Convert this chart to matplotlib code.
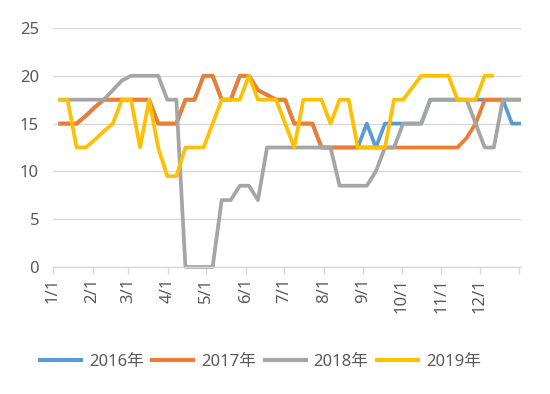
import numpy as np
import matplotlib
matplotlib.use("Agg")
import matplotlib.pyplot as plt

plt.rcParams['font.family'] = ['Noto Sans', 'Noto Sans CJK SC']

# weekly observations (week index 0..51)
s2016 = [15, 15, 15, 15.8, 16.7, 17.5, 17.5, 17.5, 17.5, 17.5, 17.5, 15, 15, 15,
         17.5, 17.5, 20, 20, 17.5, 17.5, 20, 20, 18.5, 18, 17.5, 17.5, 15, 15, 15,
         12.5, 12.5, 12.5, 12.5, 12.5, 15, 12.5, 15, 15, 15, 15, 15,
         17.5, 17.5, 17.5, 17.5, 17.5, 17.5, 17.5, 17.5, 17.5, 15, 15]
s2017 = [15, 15, 15, 15.8, 16.7, 17.5, 17.5, 17.5, 17.5, 17.5, 17.5, 15, 15, 15,
         17.5, 17.5, 20, 20, 17.5, 17.5, 20, 20, 18.5, 18, 17.5, 17.5, 15, 15, 15,
         12.5, 12.5, 12.5, 12.5, 12.5, 12.5, 12.5, 12.5, 12.5, 12.5, 12.5, 12.5,
         12.5, 12.5, 12.5, 12.5, 13.5, 15, 17.5, 17.5, 17.5, 17.5, 17.5]
s2018 = [17.5, 17.5, 17.5, 17.5, 17.5, 17.5, 18.5, 19.5, 20, 20, 20, 20, 17.5, 17.5,
         0, 0, 0, 0, 7, 7, 8.5, 8.5, 7, 12.5, 12.5, 12.5, 12.5, 12.5, 12.5, 12.5,
         12.5, 8.5, 8.5, 8.5, 8.5, 10, 12.5, 12.5, 15, 15, 15, 17.5, 17.5, 17.5,
         17.5, 17.5, 15, 12.5, 12.5, 17.5, 17.5, 17.5]
s2019 = [17.5, 17.5, 12.5, 12.5, 13.3, 14.2, 15, 17.5, 17.5, 12.5, 17.5, 12.5, 9.5,
         9.5, 12.5, 12.5, 12.5, 15, 17.5, 17.5, 17.5, 20, 17.5, 17.5, 17.5, 15, 12.5,
         17.5, 17.5, 17.5, 15, 17.5, 17.5, 12.5, 12.5, 12.5, 12.5, 17.5, 17.5, 18.75,
         20, 20, 20, 20, 17.5, 17.5, 17.5, 20, 20]

series_labels = ['2016年', '2017年', '2018年', '2019年']
colors = ['#5B9BD5', '#ED7D31', '#A5A5A5', '#FFC000']
month_days = [0, 31, 59, 90, 120, 151, 181, 212, 243, 273, 304, 334, 365]
month_labels = ['1/1', '2/1', '3/1', '4/1', '5/1', '6/1', '7/1', '8/1', '9/1',
                '10/1', '11/1', '12/1', '']

fig = plt.figure(figsize=(5.5, 3.94), dpi=100)
ax = fig.add_axes([53 / 550, 1 - 267 / 394, (521 - 53) / 550, (267 - 28) / 394])

for vals, c, lab in zip([s2016, s2017, s2018, s2019], colors, series_labels):
    ax.plot(np.arange(len(vals)), vals, color=c, lw=2.7, label=lab,
            solid_joinstyle='round', solid_capstyle='butt', clip_on=False)

ax.set_ylim(0, 25)
ax.set_yticks(range(0, 26, 5))
tick_pos = -0.6 + np.array(month_days) / 7.1
ax.set_xticks(tick_pos)
ax.set_xticklabels(month_labels)
ax.set_xlim(-0.6, 51.0)

ax.grid(axis='y', color='#D9D9D9', lw=1)
ax.set_axisbelow(True)
for s in ['top', 'right', 'left']:
    ax.spines[s].set_visible(False)
ax.spines['bottom'].set_color('#D9D9D9')
ax.spines['bottom'].set_linewidth(1)

ax.tick_params(axis='y', length=0, pad=10, labelsize=12, labelcolor='#595959')
ax.tick_params(axis='x', length=5, width=1, color='#D9D9D9', labelsize=12,
               labelcolor='#595959', labelrotation=90, pad=3)

leg = fig.legend(loc='center', bbox_to_anchor=(0.472, 1 - 362 / 394), ncol=4,
                 frameon=False, fontsize=12, handlelength=2.7,
                 handletextpad=0.35, columnspacing=0.4, labelcolor='#595959')
for line in leg.get_lines():
    line.set_linewidth(3)

fig.savefig('out.png', dpi=100)
